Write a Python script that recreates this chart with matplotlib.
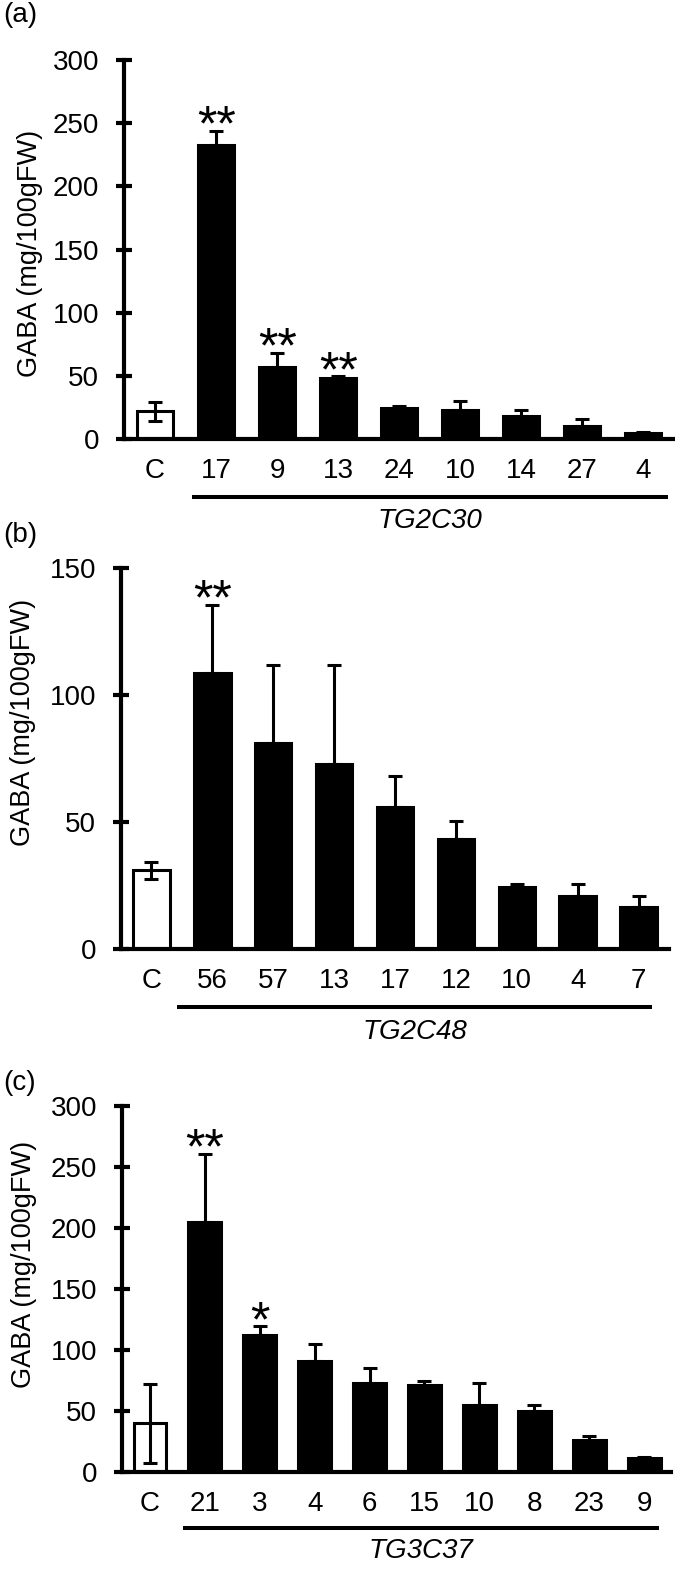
import numpy as np
import matplotlib
matplotlib.use("Agg")
import matplotlib.pyplot as plt
import matplotlib.transforms as mtransforms

plt.rcParams['font.family'] = ['Liberation Sans', 'DejaVu Sans']

# Panel (a) TG2C30
a_labels = ['C', '17', '9', '13', '24', '10', '14', '27', '4']
a_vals = [22, 233, 57, 48, 24.5, 23, 18, 10.5, 5]
a_err = [7.5, 11, 11, 1.5, 1.5, 7, 5, 5, 0.5]
a_sig = ['', '**', '**', '**', '', '', '', '', '']

# Panel (b) TG2C48
b_labels = ['C', '56', '57', '13', '17', '12', '10', '4', '7']
b_vals = [31, 108.5, 81, 73, 56, 43.5, 24.5, 21, 16.5]
b_err = [3.3, 27, 31, 39, 12.3, 7, 0.9, 4.5, 4.5]
b_sig = ['', '**', '', '', '', '', '', '', '']

# Panel (c) TG3C37
c_labels = ['C', '21', '3', '4', '6', '15', '10', '8', '23', '9']
c_vals = [40, 205, 112.5, 91, 73, 71.5, 55, 50, 26, 11.5]
c_err = [32.5, 56, 7, 14, 12, 3, 18, 4.6, 3.5, 0.5]
c_sig = ['', '**', '*', '', '', '', '', '', '', '']

W, H = 675, 1579
fig = plt.figure(figsize=(W/100, H/100), dpi=100)


def panel(rect, labels, vals, err, sig, ymax, ystep, xlim, line_x, gene,
          letter, letter_y, ylab_xy):
    ax = fig.add_axes(rect)
    x = np.arange(len(vals))
    colors = ['white'] + ['black']*(len(vals)-1)
    ax.bar(x, vals, width=0.6, color=colors, edgecolor='black', linewidth=2.2,
           zorder=2)
    # control bar shows both arms, the black bars only the upper one
    lower = [err[0]] + [0]*(len(err)-1)
    ax.errorbar(x, vals, yerr=[lower, err], fmt='none', ecolor='black',
                elinewidth=2.2, capsize=4.8, capthick=2.2, zorder=3)
    for i in range(len(vals)):
        if sig[i]:
            ax.annotate(sig[i], xy=(i, vals[i]+err[i]), xytext=(0, -7),
                        textcoords='offset points', ha='center', va='baseline',
                        fontsize=36)
    ax.set_xlim(*xlim)
    ax.set_ylim(0, ymax)
    ax.set_yticks(np.arange(0, ymax+1, ystep))
    ax.set_xticks(x)
    ax.set_xticklabels(labels)
    for s in ['top', 'right']:
        ax.spines[s].set_visible(False)
    ax.spines['left'].set_linewidth(3)
    ax.spines['bottom'].set_linewidth(3)
    ax.tick_params(axis='y', direction='inout', length=11.5, width=3,
                   labelsize=20, pad=12)
    ax.tick_params(axis='x', length=0, labelsize=20, pad=14)
    trans = mtransforms.blended_transform_factory(ax.transData, ax.transAxes)
    ax.plot(line_x, [-0.152, -0.152], color='black', lw=2.9,
            transform=trans, clip_on=False, solid_capstyle='butt')
    ax.text(np.mean(line_x), -0.217, gene, style='italic', fontsize=20,
            ha='center', va='center', transform=trans)
    fig.text(3/W, 1-letter_y/H, letter, fontsize=20, ha='left', va='center')
    fig.text(ylab_xy[0]/W, 1-ylab_xy[1]/H, 'GABA (mg/100gFW)', fontsize=19.5,
             rotation=90, ha='center', va='center')
    return ax


panel([124/W, 1-439/H, 549/W, 379/H], a_labels, a_vals, a_err, a_sig,
      300, 50, (-0.51, 8.49), [0.6, 8.41], 'TG2C30', '(a)', 15, (30, 253))
panel([121/W, 1-949/H, 548/W, 381/H], b_labels, b_vals, b_err, b_sig,
      150, 50, (-0.5, 8.5), [0.42, 8.22], 'TG2C48', '(b)', 535, (23, 722))
panel([122/W, 1-1472/H, 549/W, 366/H], c_labels, c_vals, c_err, c_sig,
      300, 50, (-0.51, 9.49), [0.6, 9.27], 'TG3C37', '(c)', 1083, (24, 1264))

fig.savefig('out.png', dpi=100)
